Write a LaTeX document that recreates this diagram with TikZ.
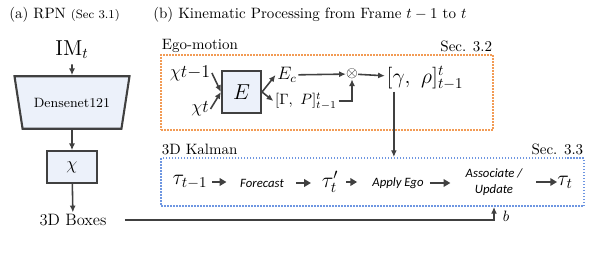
\documentclass[tikz,border=0pt]{standalone}
\usepackage{amsmath, amssymb}
\usepackage{fontspec}
\usepackage{xcolor}
\usepackage{tikz}
\usetikzlibrary{arrows.meta, positioning, calc, shapes}
\newfontfamily\kalfont{Carlito}
\definecolor{egoorange}{RGB}{242,155,85}
\definecolor{kalblue}{RGB}{110,150,225}
\definecolor{boxfill}{RGB}{236,241,250}
\definecolor{linegray}{RGB}{64,64,64}

\begin{document}
\begin{tikzpicture}[x=0.6667pt, y=-0.6667pt,
        conn/.style={draw=linegray, line width=1.05pt, -{Latex[length=4.5pt, width=4pt]}},
        kstep/.style={draw=linegray, line width=1.6pt, -{Triangle[length=4.5pt, width=5pt]}},
        blockbox/.style={draw=linegray, line width=1.4pt, fill=boxfill},
        dotbox/.style={line width=1.3pt, dash pattern=on 1pt off 1pt, inner sep=0pt},
        kaltext/.style={font=\kalfont\itshape\fontsize{8.5}{10.5}\selectfont, inner sep=0pt, align=center}
    ]
        \useasboundingbox (0,0) rectangle (592,252);

        % Titles
        \node[anchor=west] (titleA) at (4,15) {(a) RPN {\footnotesize (Sec 3.1)}};
        \node[anchor=west] (titleB) at (148,15) {(b) Kinematic Processing from Frame $t-1$ to $t$};

        % RPN column
        \node (im) at (72,50) {\Large $\mathrm{IM}_t$};
        \node[blockbox, trapezium, shape border rotate=180, trapezium stretches=true,
              trapezium angle=70, minimum width=77pt, minimum height=35pt] (dense) at (72,102.5) {\small Densenet121};
        \node[blockbox, minimum width=33pt, minimum height=21pt] (chi) at (72,167) {\large $\chi$};
        \node[inner sep=1pt] (boxes) at (73,220) {\fontsize{11}{13}\selectfont 3D Boxes};
        \draw[conn] (im) -- (dense);
        \draw[conn] (dense) -- (chi);
        \draw[conn] (chi) -- (boxes);

        % Ego-motion block
        \node[dotbox, draw=egoorange, minimum width=221.3pt, minimum height=50pt] (ego) at (327,92.5) {};
        \node[anchor=south west, inner sep=1pt] (egolab) at (ego.north west) {Ego-motion};
        \node[anchor=south east, inner sep=1pt] (egosec) at (ego.north east) {Sec. 3.2};

        \node[inner sep=1pt] (chiA) at (190,73) {\large $\chi t{-}1$};
        \node[inner sep=1pt] (chiB) at (200,109) {\large $\chi t$};
        \node[blockbox, minimum width=26pt, minimum height=28pt] (E) at (241.5,92) {\Large $E$};
        \node[inner sep=1pt] (Ec) at (287,75) {\large $E_c$};
        \node[inner sep=1pt] (gp) at (306,101) {$[\Gamma,\ P]^t_{t-1}$};
        \node[inner sep=0pt] (ot) at (352,74) {$\otimes$};
        \node[inner sep=1pt] (gr) at (425,78) {\Large $[\gamma,\ \rho]^t_{t-1}$};

        \draw[conn] (chiA.east) -- (E.west);
        \draw[conn] (chiB.east) -- (E.west);
        \draw[conn] (E.east) -- (Ec.west);
        \draw[conn] (E.east) -- (gp.west);
        \draw[conn] (Ec) -- (ot);
        \draw[conn] (gp.east) -| (ot.south);
        \draw[conn] (ot) -- (gr);

        % 3D Kalman block
        \node[dotbox, draw=kalblue, minimum width=282pt, minimum height=32pt] (kalman) at (372.5,182) {};
        \node[anchor=south west, inner sep=1pt] (kallab) at (kalman.north west) {3D Kalman};
        \node[anchor=south east, inner sep=1pt] (kalsec) at (kalman.north east) {Sec. 3.3};

        \node[inner sep=0pt] (t1) at (190,182) {\Large $\tau_{t-1}$};
        \node[kaltext] (fc) at (262,183) {Forecast};
        \node[inner sep=0pt] (tp) at (330,182) {\Large $\tau'_t$};
        \node[kaltext] (ae) at (398,183) {Apply Ego};
        \node[kaltext] (au) at (494,182) {Associate /\\Update};
        \node[inner sep=0pt] (tt) at (565,182) {\Large $\tau_t$};

        \foreach \a/\b/\s/\e in {t1/fc/3pt/9pt, fc/tp/8pt/7pt, tp/ae/5pt/10pt, ae/au/4pt/10pt, au/tt/9pt/0pt}
            \draw[kstep, shorten <=\s, shorten >=\e] (\a.east) -- (\b.west |- \a.east);

        % Links between blocks
        \draw[conn] ([xshift=6pt]gr.south west) coordinate (gdown) -- (gdown |- kalman.north);
        \draw[conn] ([xshift=11pt]boxes.east) -| node[pos=0.65, right=2pt, name=blab] {$b$} (au |- kalman.south);
    \end{tikzpicture}
\end{document}
